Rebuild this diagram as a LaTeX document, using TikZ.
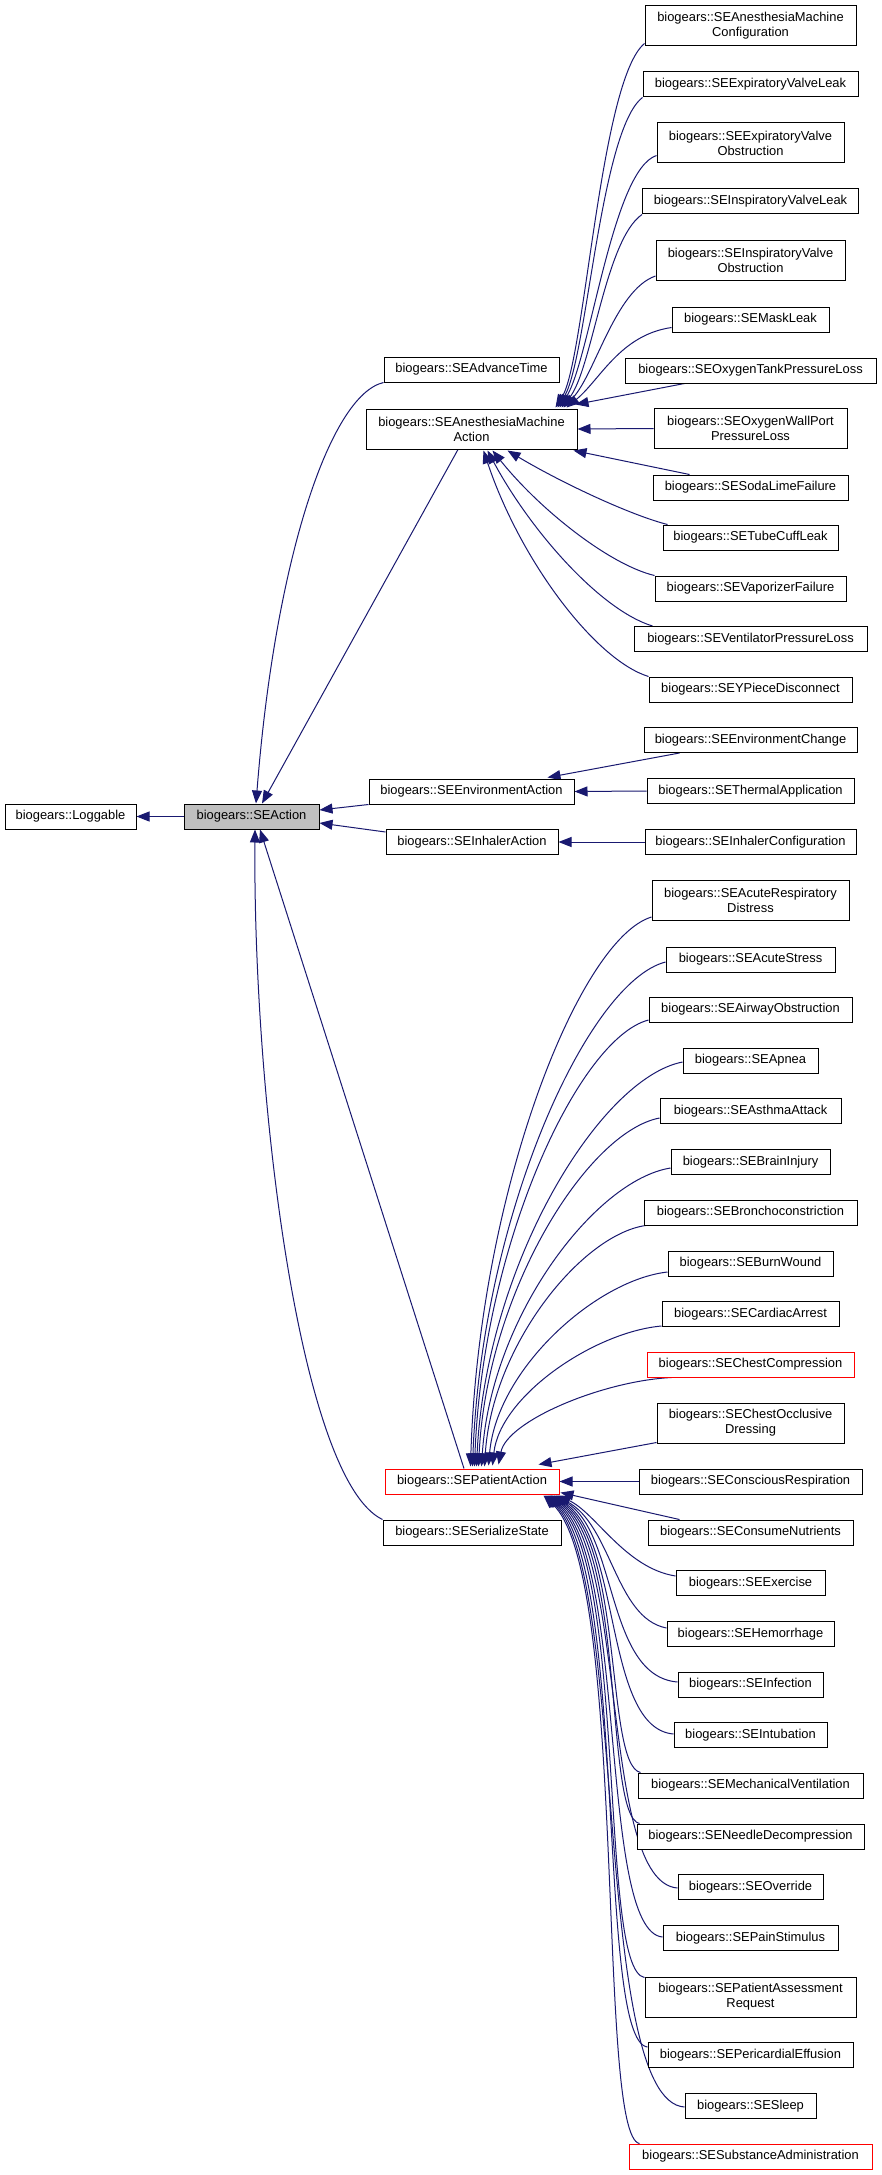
\documentclass[tikz,border=0pt]{standalone}
\usepackage{fontspec}
\setmainfont{Liberation Sans}
\usetikzlibrary{arrows.meta,calc}
\definecolor{navy}{HTML}{191970}
\definecolor{actgray}{HTML}{BFBFBF}
\definecolor{boxred}{HTML}{FF0000}
\pgfdeclarelayer{edgelayer}
\pgfsetlayers{edgelayer,main}
\begin{document}
\begin{tikzpicture}[x=1pt,y=-1pt,
 cls/.style={draw=black, line width=1pt, fill=white, inner sep=0pt, align=center,
   font=\fontsize{12.9}{15}\selectfont, minimum height=25pt},
 two/.style={minimum height=40pt},
 redcls/.style={cls, draw=boxred},
 inh/.style={draw=navy, line width=1pt, -{Triangle[length=13pt,width=10pt]}}]
\useasboundingbox (0,0) rectangle (881,2175);

% left / middle
\node[cls, minimum width=131pt] (loggable) at (70.5,816.5) {biogears::Loggable};
\node[cls, fill=actgray, minimum width=135pt] (seaction) at (251.5,816.5) {biogears::SEAction};
\node[cls, minimum width=175pt] (advance) at (471.5,369.5) {biogears::SEAdvanceTime};
\node[cls, two, minimum width=211pt] (ama) at (471.5,429) {biogears::SEAnesthesiaMachine\\Action};
\node[cls, minimum width=205pt] (envact) at (471.5,791.5) {biogears::SEEnvironmentAction};
\node[cls, minimum width=172pt] (inhact) at (472,842) {biogears::SEInhalerAction};
\node[redcls, minimum width=174pt] (patact) at (472,1481.5) {biogears::SEPatientAction};
\node[cls, minimum width=178pt] (serialize) at (472,1532.5) {biogears::SESerializeState};

% right column: anesthesia machine
\node[cls, two, minimum width=211pt] (amconf) at (750.5,26) {biogears::SEAnesthesiaMachine\\Configuration};
\node[cls, minimum width=215pt] (evleak) at (750.5,84.5) {biogears::SEExpiratoryValveLeak};
\node[cls, two, minimum width=187pt] (evobs) at (750.5,143) {biogears::SEExpiratoryValve\\Obstruction};
\node[cls, minimum width=216pt] (ivleak) at (750.5,201.5) {biogears::SEInspiratoryValveLeak};
\node[cls, two, minimum width=189pt] (ivobs) at (750.5,260.5) {biogears::SEInspiratoryValve\\Obstruction};
\node[cls, minimum width=157pt] (mask) at (750.5,319.5) {biogears::SEMaskLeak};
\node[cls, minimum width=251pt] (o2tank) at (750.5,370.5) {biogears::SEOxygenTankPressureLoss};
\node[cls, two, minimum width=193pt] (o2wall) at (750.5,428.5) {biogears::SEOxygenWallPort\\PressureLoss};
\node[cls, minimum width=195pt] (soda) at (750.5,487.5) {biogears::SESodaLimeFailure};
\node[cls, minimum width=175pt] (tube) at (750.5,537.5) {biogears::SETubeCuffLeak};
\node[cls, minimum width=191pt] (vapor) at (750.5,588.5) {biogears::SEVaporizerFailure};
\node[cls, minimum width=233pt] (vent) at (750.5,639) {biogears::SEVentilatorPressureLoss};
\node[cls, minimum width=203pt] (ypiece) at (750.5,689.5) {biogears::SEYPieceDisconnect};

% environment / inhaler
\node[cls, minimum width=213pt] (envchg) at (750.5,740) {biogears::SEEnvironmentChange};
\node[cls, minimum width=207pt] (thermal) at (750.5,791) {biogears::SEThermalApplication};
\node[cls, minimum width=211pt] (inhconf) at (750.5,842) {biogears::SEInhalerConfiguration};

% patient
\node[cls, two, minimum width=197pt] (ards) at (750.5,900.5) {biogears::SEAcuteRespiratory\\Distress};
\node[cls, minimum width=169pt] (acutestress) at (750.5,959.5) {biogears::SEAcuteStress};
\node[cls, minimum width=203pt] (airway) at (750.5,1009.5) {biogears::SEAirwayObstruction};
\node[cls, minimum width=135pt] (apnea) at (750.5,1060.5) {biogears::SEApnea};
\node[cls, minimum width=181pt] (asthma) at (750.5,1111) {biogears::SEAsthmaAttack};
\node[cls, minimum width=159pt] (brain) at (750.5,1162) {biogears::SEBrainInjury};
\node[cls, minimum width=213pt] (broncho) at (750.5,1212.5) {biogears::SEBronchoconstriction};
\node[cls, minimum width=165pt] (burn) at (750.5,1263.5) {biogears::SEBurnWound};
\node[cls, minimum width=177pt] (cardiac) at (750.5,1314) {biogears::SECardiacArrest};
\node[redcls, minimum width=207pt] (chestcomp) at (750.5,1364.5) {biogears::SEChestCompression};
\node[cls, two, minimum width=187pt] (chestocc) at (750.5,1423) {biogears::SEChestOcclusive\\Dressing};
\node[cls, minimum width=223pt] (conscious) at (750.5,1481.5) {biogears::SEConsciousRespiration};
\node[cls, minimum width=205pt] (consume) at (750.5,1532.5) {biogears::SEConsumeNutrients};
\node[cls, minimum width=149pt] (exercise) at (750.5,1583) {biogears::SEExercise};
\node[cls, minimum width=167pt] (hemorrhage) at (750.5,1634) {biogears::SEHemorrhage};
\node[cls, minimum width=145pt] (infection) at (750.5,1684.5) {biogears::SEInfection};
\node[cls, minimum width=153pt] (intubation) at (750.5,1735) {biogears::SEIntubation};
\node[cls, minimum width=225pt] (mechvent) at (750.5,1785.5) {biogears::SEMechanicalVentilation};
\node[cls, minimum width=227pt] (needle) at (750.5,1836.5) {biogears::SENeedleDecompression};
\node[cls, minimum width=145pt] (override) at (750.5,1887) {biogears::SEOverride};
\node[cls, minimum width=175pt] (pain) at (750.5,1938) {biogears::SEPainStimulus};
\node[cls, two, minimum width=211pt] (assess) at (750.5,1997) {biogears::SEPatientAssessment\\Request};
\node[cls, minimum width=205pt] (pericard) at (750.5,2055) {biogears::SEPericardialEffusion};
\node[cls, minimum width=131pt] (sleep) at (750.5,2106) {biogears::SESleep};
\node[redcls, minimum width=243pt] (substance) at (750.5,2156.5) {biogears::SESubstanceAdministration};

\begin{pgfonlayer}{edgelayer}
\fill[white] (0,0) rectangle (881,2175);
% ---- edges to SEAction / Loggable
\draw[inh] (seaction.west) -- (loggable.east);
\draw[inh] (advance.south west) .. controls (330,395) and (275,560) .. ($(seaction.north)+(4.5,0)$);
\draw[inh] ($(ama.south)+(-13.5,0)$) -- ($(seaction.north)+(10.5,0)$);
\draw[inh] (envact.south west) -- ($(seaction.east)+(0,-6.5)$);
\draw[inh] ($(inhact.north west)+(0,3)$) -- ($(seaction.east)+(0,6.5)$);
\draw[inh] ($(patact.north)+(-8,0)$) -- ($(seaction.south)+(8.5,0)$);
\draw[inh] (serialize.north west) .. controls (300,1480) and (253,1100) .. ($(seaction.south)+(3.5,0)$);

% ---- anesthesia machine children
\draw[inh] ($(amconf.south west)+(0,-3)$) .. controls (600,80) and (585,360) .. ($(ama.north east)+(-22,-1)$);
\draw[inh] (evleak.south west) .. controls (600,130) and (587,360) .. ($(ama.north east)+(-20,-1)$);
\draw[inh] ($(evobs.south west)+(0,-8)$) .. controls (612,170) and (590,360) .. ($(ama.north east)+(-18,-1)$);
\draw[inh] (ivleak.south west) .. controls (605,240) and (592,370) .. ($(ama.north east)+(-16,-1)$);
\draw[inh] ($(ivobs.south west)+(0,-5)$) .. controls (615,290) and (595,375) .. ($(ama.north east)+(-14,-1)$);
\draw[inh] ($(mask.south west)+(0,-5)$) .. controls (620,335) and (600,380) .. ($(ama.north east)+(-11,-1)$);
\draw[inh] ($(o2tank.south west)+(60,0)$) -- ($(ama.north east)+(-2,-4)$);
\draw[inh] (o2wall.west) -- (ama.east);
\draw[inh] ($(soda.north west)+(37,0)$) -- ($(ama.south east)+(-4,1)$);
\draw[inh] ($(tube.north west)+(5,0)$) .. controls (630,515) and (560,482) .. ($(ama.south east)+(-70,1)$);
\draw[inh] (vapor.north west) .. controls (610,565) and (540,510) .. ($(ama.south east)+(-85,1)$);
\draw[inh] ($(vent.north west)+(19,0)$) .. controls (600,610) and (530,530) .. ($(ama.south east)+(-90,1)$);
\draw[inh] (ypiece.north west) .. controls (595,660) and (520,560) .. ($(ama.south east)+(-94,1)$);

% ---- environment / inhaler children
\draw[inh] ($(envchg.south west)+(36,0)$) -- ($(envact.north east)+(-27,-1)$);
\draw[inh] (thermal.west) -- (envact.east);
\draw[inh] (inhconf.west) -- (inhact.east);

% ---- patient children (above)
\draw[inh] ($(ards.west)+(0,16.5)$) .. controls (579,939) and (479,1192) .. ($(patact.north east)+(-89,-2)$);
\draw[inh] ($(acutestress.west)+(0,2.5)$) .. controls (588,982) and (482,1214) .. ($(patact.north east)+(-87,-2)$);
\draw[inh] ($(airway.west)+(0,10.5)$) .. controls (579,1038) and (483,1243) .. ($(patact.north east)+(-85,-2)$);
\draw[inh] ($(apnea.west)+(0,1.5)$) .. controls (600,1078) and (486,1264) .. ($(patact.north east)+(-83,-2)$);
\draw[inh] ($(asthma.west)+(0,7)$) .. controls (587,1132) and (487,1292) .. ($(patact.north east)+(-81,-2)$);
\draw[inh] ($(brain.west)+(0,6)$) .. controls (595,1180) and (491,1317) .. ($(patact.north east)+(-78,-2)$);
\draw[inh] ($(broncho.south west)+(2,0)$) .. controls (581,1235) and (492,1346) .. ($(patact.north east)+(-75,-2)$);
\draw[inh] ($(burn.west)+(0,8.5)$) .. controls (596,1280) and (497,1369) .. ($(patact.north east)+(-71,-3)$);
\draw[inh] ($(cardiac.west)+(0,12)$) .. controls (594,1332) and (500,1396) .. ($(patact.north east)+(-67,-3)$);
\draw[inh] ($(chestcomp.south west)+(25,0)$) .. controls (602,1381) and (507,1421) .. ($(patact.north east)+(-61,-4)$);
\draw[inh] ($(chestocc.south west)+(0,-1)$) -- ($(patact.north east)+(-21,-4)$);
\draw[inh] (conscious.west) -- (patact.east);
\draw[inh] ($(consume.north west)+(32,0)$) -- ($(patact.south east)+(1,-2)$);

% ---- patient children (below)
\draw[inh] ($(exercise.west)+(0,-7)$) .. controls (625,1568) and (595,1512) .. ($(patact.south east)+(-2,1)$);
\draw[inh] ($(hemorrhage.west)+(0,-6)$) .. controls (615,1618) and (612,1525) .. ($(patact.south east)+(-4,1)$);
\draw[inh] ($(infection.west)+(0,-2.5)$) .. controls (605,1676) and (618,1530) .. ($(patact.south east)+(-6,1)$);
\draw[inh] ($(intubation.west)+(0,-1)$) .. controls (603,1728) and (622,1535) .. ($(patact.south east)+(-8,1)$);
\draw[inh] ($(mechvent.north west)+(3,0)$) .. controls (605,1765) and (624,1540) .. ($(patact.south east)+(-9,1)$);
\draw[inh] ($(needle.north west)+(3,0)$) .. controls (604,1816) and (626,1545) .. ($(patact.south east)+(-10,1)$);
\draw[inh] ($(override.west)+(0,1)$) .. controls (600,1882) and (628,1550) .. ($(patact.south east)+(-11,1)$);
\draw[inh] ($(pain.west)+(0,-1)$) .. controls (598,1931) and (628,1555) .. ($(patact.south east)+(-12,1)$);
\draw[inh] ($(assess.north west)+(0,1)$) .. controls (598,1970) and (628,1560) .. ($(patact.south east)+(-13,1)$);
\draw[inh] ($(pericard.west)+(0,-8)$) .. controls (596,2041) and (628,1565) .. ($(patact.south east)+(-14,1)$);
\draw[inh] ($(sleep.west)+(0,1)$) .. controls (592,2101) and (628,1570) .. ($(patact.south east)+(-15,1)$);
\draw[inh] ($(substance.north west)+(11,0)$) .. controls (596,2136) and (628,1575) .. ($(patact.south east)+(-16,1)$);
\end{pgfonlayer}
\end{tikzpicture}
\end{document}
